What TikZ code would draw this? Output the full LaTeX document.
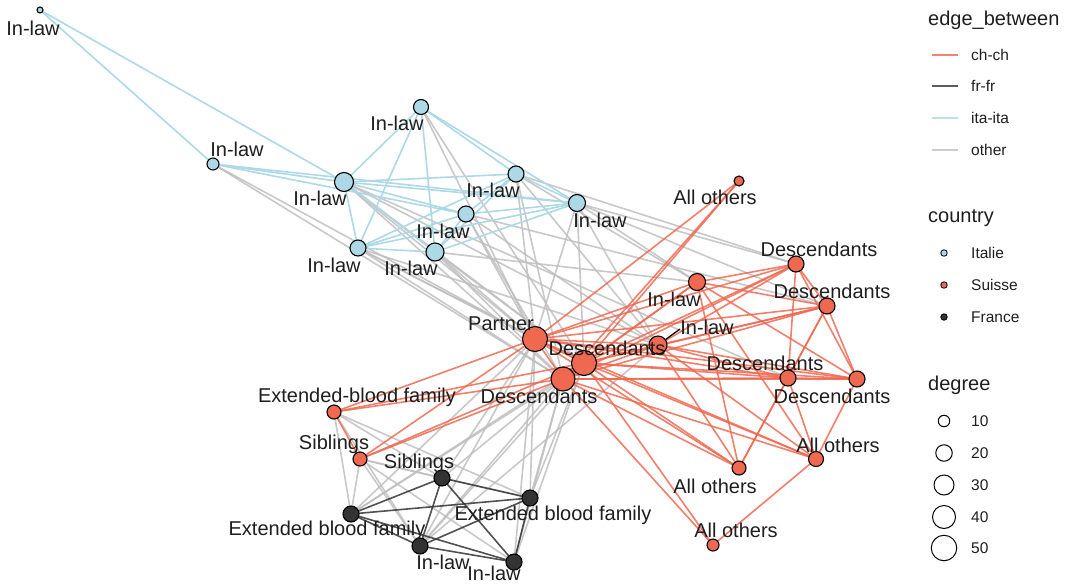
\documentclass[tikz,border=0pt]{standalone}
\usepackage{fontspec}
\setmainfont{Liberation Sans}
\definecolor{chred}{RGB}{239,104,80}
\definecolor{itablue}{RGB}{173,216,230}
\definecolor{frdark}{RGB}{51,51,51}
\definecolor{othergrey}{RGB}{190,190,190}
\definecolor{txt}{RGB}{30,30,30}
\pgfdeclarelayer{bg}
\pgfsetlayers{bg,main}
\begin{document}
\begin{tikzpicture}[x=1pt,y=-1pt,
  vtx/.style={circle, draw=black, line width=1.1pt, inner sep=0pt, minimum size=#1},
  ita/.style={vtx=#1, fill=itablue},
  ch/.style={vtx=#1, fill=chred},
  fr/.style={vtx=#1, fill=frdark},
  lab/.style={font=\fontsize{20}{24}\selectfont, text=txt, inner sep=0pt},
  legtitle/.style={font=\fontsize{20}{24}\selectfont, text=txt, inner sep=0pt, anchor=west},
  legitem/.style={font=\fontsize{15.5}{18}\selectfont, text=txt, inner sep=0pt, anchor=west},
  chch/.style={draw=chred, draw opacity=.85, line width=1.6pt},
  frfr/.style={draw=frdark, draw opacity=.85, line width=1.6pt},
  itaita/.style={draw=itablue, line width=1.6pt},
  other/.style={draw=othergrey, draw opacity=.85, line width=1.6pt},
  leader/.style={draw=black, line width=1.2pt}
]
\useasboundingbox (0,0) rectangle (1075,584);

% ---------- Italian nodes
\node[ita=6pt]  (I1) at (40,10) {};
\node[ita=12pt] (I2) at (213,164) {};
\node[ita=19pt] (I3) at (344,182) {};
\node[ita=15pt] (I4) at (421,107) {};
\node[ita=16pt] (I5) at (516,174) {};
\node[ita=16pt] (I6) at (466,214) {};
\node[ita=17pt] (I7) at (577,203) {};
\node[ita=16pt] (I8) at (358,248) {};
\node[ita=18pt] (I9) at (435,252) {};
% ---------- Swiss nodes
\node[ch=10pt] (S1) at (739,181) {};
\node[ch=16pt] (S2) at (796,264) {};
\node[ch=17pt] (S3) at (697,282) {};
\node[ch=16pt] (S4) at (827,306) {};
\node[ch=18pt] (S5) at (658,345) {};
\node[ch=25pt] (S6) at (535,339) {};
\node[ch=25pt] (S7) at (584,363) {};
\node[ch=24pt] (S8) at (563,379) {};
\node[ch=16pt] (S9) at (788,378) {};
\node[ch=16pt] (S10) at (857,379) {};
\node[ch=14pt] (S11) at (334,412) {};
\node[ch=14pt] (S12) at (360,459) {};
\node[ch=14pt] (S13) at (739,468) {};
\node[ch=15pt] (S14) at (816,459) {};
\node[ch=12pt] (S15) at (713,545) {};
% ---------- French nodes
\node[fr=16pt] (F1) at (442,478) {};
\node[fr=16pt] (F2) at (530,498) {};
\node[fr=16pt] (F3) at (351,514) {};
\node[fr=16pt] (F4) at (420,546) {};
\node[fr=16pt] (F5) at (514,562) {};

% ---------- edges
\begin{pgfonlayer}{bg}
\foreach \a/\b in {I2/S6,I2/S8,I3/S6,I3/S7,I3/S8,I3/S5,I8/S6,I8/S7,I8/S8,I9/S6,I9/S7,I9/S8,I9/S3,
  I6/S6,I6/S8,I6/S5,I6/S4,I4/S6,I4/S7,I5/S6,I5/S8,I5/S3,I5/S5,I5/S2,
  I7/S6,I7/S7,I7/S2,I7/S4,I7/S3,I7/S5,I3/S9,I8/S5,
  S11/F1,S11/F3,S11/F4,S11/F2,S12/F3,S12/F4,S12/F1,S12/F5,S12/F2,
  S6/F1,S6/F2,S6/F3,S6/F4,S6/F5,S7/F2,S7/F4,S7/F5,S7/F3,
  S8/F1,S8/F2,S8/F3,S8/F4,S8/F5,S5/F4}
  \draw[other] (\a.center) -- (\b.center);
\foreach \a/\b in {I1/I2,I1/I3,I2/I3,I2/I6,I2/I7,
  I3/I4,I3/I5,I3/I6,I3/I7,I3/I8,I3/I9,I4/I5,I4/I7,I4/I8,I4/I9,
  I5/I6,I5/I7,I5/I8,I5/I9,I6/I7,I6/I8,I6/I9,I7/I8,I7/I9,I8/I9}
  \draw[itaita] (\a.center) -- (\b.center);
\foreach \a/\b in {F1/F2,F1/F3,F1/F4,F1/F5,F2/F3,F2/F4,F2/F5,F3/F4,F3/F5,F4/F5}
  \draw[frfr] (\a.center) -- (\b.center);
\foreach \a/\b in {S6/S7,S6/S8,S7/S8,S1/S6,S1/S7,S1/S8,
  S2/S6,S2/S7,S2/S8,S2/S3,S2/S4,S2/S5,S2/S9,S2/S10,
  S3/S6,S3/S7,S3/S8,S3/S4,S3/S10,S3/S14,S3/S13,
  S4/S6,S4/S7,S4/S8,S4/S5,S4/S9,S4/S10,S4/S13,
  S5/S6,S5/S7,S5/S8,S5/S9,S5/S10,S5/S14,S5/S13,
  S9/S6,S9/S7,S9/S8,S9/S10,S9/S13,S9/S14,
  S10/S6,S10/S7,S10/S8,S10/S14,
  S11/S6,S11/S7,S11/S8,S11/S12,S12/S6,S12/S7,S12/S8,
  S13/S7,S13/S8,S13/S6,S14/S7,S14/S8,S14/S6,S14/S15,S15/S7,S15/S8}
  \draw[chch] (\a.center) -- (\b.center);
\end{pgfonlayer}

% ---------- labels
\node[lab] (I1l) at (33,28) {In-law};
\node[lab] (I2l) at (237,149) {In-law};
\node[lab] (I3l) at (320,198) {In-law};
\node[lab] (I4l) at (397,123) {In-law};
\node[lab] (I5l) at (493,190) {In-law};
\node[lab] (I6l) at (443,231) {In-law};
\node[lab] (I7l) at (600,220) {In-law};
\node[lab] (I8l) at (334,265) {In-law};
\node[lab] (I9l) at (411,268) {In-law};
\node[lab] (S1l) at (715,197) {All others};
\node[lab] (S2l) at (819,249) {Descendants};
\node[lab] (S3l) at (674,299) {In-law};
\node[lab] (S4l) at (832,291) {Descendants};
\node[lab] (S5l) at (707,327) {In-law};
\node[lab] (S6l) at (501,324) {Partner};
\node[lab] (S7l) at (607,348) {Descendants};
\node[lab] (S8l) at (539,396) {Descendants};
\node[lab] (S9l) at (765,363) {Descendants};
\node[lab] (S10l) at (832,396) {Descendants};
\node[lab] (S11l) at (357,397) {Extended-blood family};
\node[lab] (S12l) at (334,444) {Siblings};
\node[lab] (S13l) at (715,486) {All others};
\node[lab] (S14l) at (838,445) {All others};
\node[lab] (S15l) at (736,530) {All others};
\node[lab] (F1l) at (419,463) {Siblings};
\node[lab] (F2l) at (553,515) {Extended blood family};
\node[lab] (F3l) at (327,530) {Extended blood family};
\node[lab] (F4l) at (443,562) {In-law};
\node[lab] (F5l) at (494,573) {In-law};
\coordinate (S5a) at (680,329);
\draw[leader] (S5a) -- (S5);

% ---------- legend
\node[legtitle] (T1) at (928,20) {edge\_between};
\foreach \y/\s/\t [count=\i] in {55/chch/ch-ch, 86/frfr/fr-fr, 118/itaita/ita-ita, 150/other/other}{
  \coordinate (La\i) at (932,\y);
  \coordinate (Lb\i) at (958,\y);
  \draw[\s, opacity=.8] (La\i) -- (Lb\i);
  \node[legitem] (Lt\i) at (971,\y) {\t};
}
\node[legtitle] (T2) at (928,218) {country};
\foreach \y/\c/\t [count=\i] in {253/itablue/Italie, 285/chred/Suisse, 317/frdark/France}{
  \node[vtx=6.5pt, fill=\c, line width=0.8pt] (Cd\i) at (944,\y) {};
  \node[legitem] (Ct\i) at (971,\y) {\t};
}
\node[legtitle] (T3) at (928,385) {degree};
\foreach \y/\d/\t [count=\i] in {421/11.5pt/10, 453/16.5pt/20, 485/20pt/30, 517/23pt/40, 548/25.5pt/50}{
  \node[vtx=\d, fill=white, line width=1pt] (Dg\i) at (944,\y) {};
  \node[legitem] (Dt\i) at (971,\y) {\t};
}
\end{tikzpicture}
\end{document}
